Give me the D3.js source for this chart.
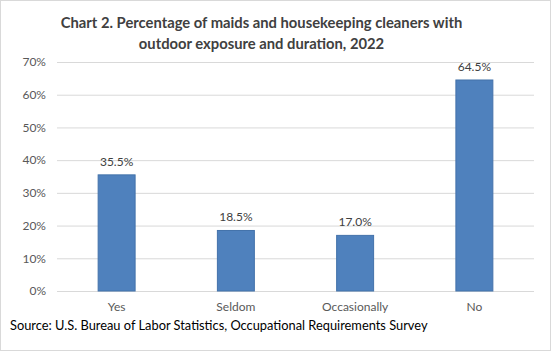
<!DOCTYPE html>
<html><head><meta charset="utf-8">
<script src="https://cdn.jsdelivr.net/npm/d3@7"></script>
<style>body{margin:0;background:#fff}svg{display:block}</style>
</head><body>
<script>
const categories = ["Yes", "Seldom", "Occasionally", "No"];
const values = [35.5, 18.5, 17.0, 64.5];
const yTicks = [0, 10, 20, 30, 40, 50, 60, 70];
const titleLines = ["Chart 2. Percentage of maids and housekeeping cleaners with", "outdoor exposure and duration, 2022"];
const source = "Source: U.S. Bureau of Labor Statistics, Occupational Requirements Survey";

const W = 551, H = 351;
const m = {left: 57, right: 17, top: 62, bottom: 60};
const svg = d3.select("body").append("svg").attr("width", W).attr("height", H);
const font = "Lato, 'Open Sans', sans-serif";

function fit(sel, target) {
  sel.each(function() {
    const fs = parseFloat(this.getAttribute("font-size"));
    const w = this.getComputedTextLength();
    if (w > 0) this.setAttribute("font-size", (fs * target / w).toFixed(2));
  });
}

svg.append("rect").attr("x", 0.5).attr("y", 0.5).attr("width", W - 1).attr("height", H - 1)
  .attr("fill", "#fff").attr("stroke", "#d9d9d9");

const x = d3.scaleBand().domain(categories).range([m.left, W - m.right]).paddingInner(0.69).paddingOuter(0.345);
const y = d3.scaleLinear().domain([0, 70]).range([H - m.bottom, m.top]);

const t = svg.append("g").selectAll("text").data(titleLines).join("text")
  .attr("x", 261.5).attr("y", (d, i) => 28 + i * 21)
  .attr("text-anchor", "middle").attr("font-family", font).attr("font-weight", "bold")
  .attr("font-size", 16).attr("fill", "#404040").text(d => d);
fit(t.filter((d, i) => i === 0), 402);
t.filter((d, i) => i === 1).attr("font-size", t.filter((d, i) => i === 0).attr("font-size"));

const yAxis = d3.axisLeft(y).tickValues(yTicks).tickSize(-(W - m.left - m.right)).tickFormat(d => d + "%");
const gy = svg.append("g").attr("transform", `translate(${m.left},0)`).call(yAxis);
gy.select(".domain").remove();
gy.selectAll(".tick line").attr("stroke", "#d9d9d9");
gy.selectAll(".tick text").attr("x", -11).attr("font-family", font).attr("font-size", 12).attr("fill", "#595959");

const xAxis = d3.axisBottom(x).tickSize(0);
const gx = svg.append("g").attr("transform", `translate(0,${H - m.bottom})`).call(xAxis);
gx.select(".domain").remove();
gx.selectAll(".tick text").attr("y", 20).attr("dy", 0).attr("font-family", font).attr("font-size", 12).attr("fill", "#595959");

svg.append("g").selectAll("rect").data(values).join("rect")
  .attr("x", (d, i) => x(categories[i])).attr("width", x.bandwidth())
  .attr("y", d => y(d)).attr("height", d => y(0) - y(d))
  .attr("fill", "#4F81BD").attr("stroke", "#4372AA").attr("stroke-width", 1);

svg.append("g").selectAll("text").data(values).join("text")
  .attr("x", (d, i) => x(categories[i]) + x.bandwidth() / 2).attr("y", d => y(d) - 9)
  .attr("text-anchor", "middle").attr("font-family", font).attr("font-size", 12).attr("fill", "#404040")
  .text(d => d.toFixed(1) + "%");

const s = svg.append("text").attr("x", 10).attr("y", 330).attr("font-family", font).attr("font-size", 14)
  .attr("fill", "#000").text(source);
fit(s, 418);
</script>
</body></html>
